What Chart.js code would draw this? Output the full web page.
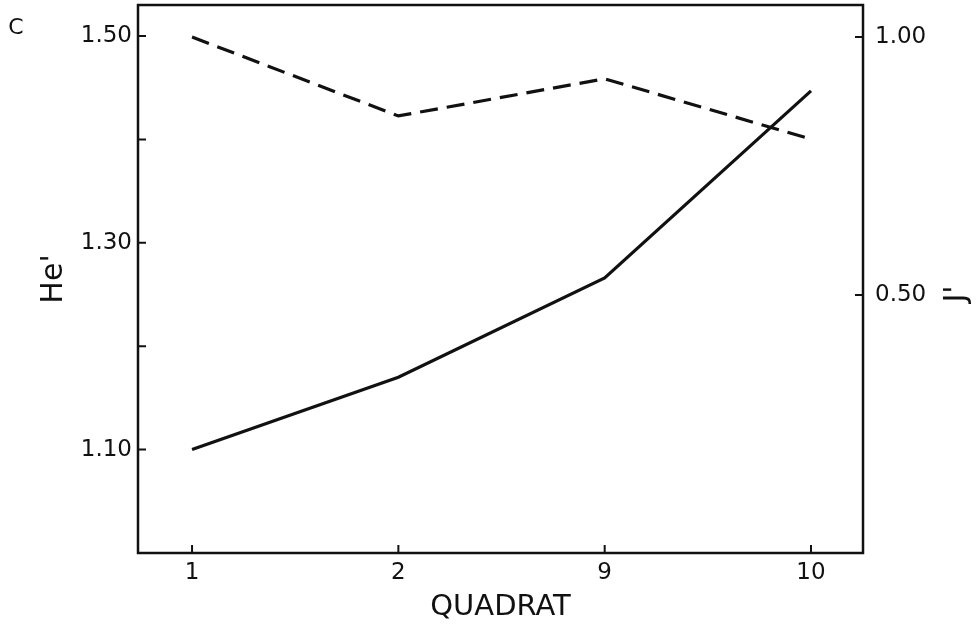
<!DOCTYPE html>
<html>
<head>
<meta charset="utf-8">
<title>He' and J' by quadrat</title>
<script src="https://cdn.jsdelivr.net/npm/chart.js@4.4.1/dist/chart.umd.min.js"></script>
<style>
  html, body { margin: 0; padding: 0; background: #fff; }
  #wrap { width: 976px; height: 630px; position: relative; }
</style>
</head>
<body>
<div id="wrap"><canvas id="chart" width="976" height="630"></canvas></div>
<script>
// quadrats along the x axis (evenly spaced, not to scale)
const quadrats = ["1", "2", "9", "10"];
// He' (left axis, solid line)
const heValues = [1.10, 1.17, 1.266, 1.447];
// J' (right axis, dashed line)
const jValues = [1.00, 0.847, 0.919, 0.802];
// ticks
const heTicks = [1.0, 1.1, 1.2, 1.3, 1.4, 1.5];
const heLabelled = ["1.10", "1.30", "1.50"];
const jTicks = [0, 0.5, 1.0];
const jLabelled = ["0.50", "1.00"];

const INK = "#111";
const FONT = "'DejaVu Sans', sans-serif";

const toPoints = vals => vals.map((v, i) => ({ x: i, y: v }));

// frame, inward tick marks and the loose labels
const framePlugin = {
  id: "frame",
  afterDraw(chart) {
    const { ctx, chartArea: a, scales } = chart;
    ctx.save();
    ctx.strokeStyle = INK;
    ctx.lineWidth = 2.5;
    ctx.strokeRect(a.left, a.top, a.right - a.left, a.bottom - a.top);

    ctx.lineWidth = 2;
    ctx.beginPath();
    scales.x.ticks.forEach(t => {
      const px = scales.x.getPixelForValue(t.value);
      ctx.moveTo(px, a.bottom);
      ctx.lineTo(px, a.bottom - 8);
    });
    scales.yHe.ticks.forEach(t => {
      const py = scales.yHe.getPixelForValue(t.value);
      ctx.moveTo(a.left, py);
      ctx.lineTo(a.left + 8, py);
    });
    scales.yJ.ticks.forEach(t => {
      const py = scales.yJ.getPixelForValue(t.value);
      ctx.moveTo(a.right, py);
      ctx.lineTo(a.right - 8, py);
    });
    ctx.stroke();

    ctx.fillStyle = INK;
    ctx.textAlign = "center";
    ctx.textBaseline = "middle";
    ctx.font = "22px " + FONT;
    ctx.fillText("C", 16, 28);

    // right axis title reads bottom to top, like the left one
    ctx.font = "30px " + FONT;
    ctx.translate(957, (a.top + a.bottom) / 2 + 15);
    ctx.rotate(-Math.PI / 2);
    ctx.fillText("J'", 0, 0);
    ctx.restore();
  }
};

new Chart(document.getElementById("chart"), {
  type: "line",
  data: {
    datasets: [
      {
        label: "He'",
        data: toPoints(heValues),
        yAxisID: "yHe",
        borderColor: INK,
        borderWidth: 3.2,
        pointRadius: 0,
        tension: 0
      },
      {
        label: "J'",
        data: toPoints(jValues),
        yAxisID: "yJ",
        borderColor: INK,
        borderWidth: 3.2,
        borderDash: [18, 9],
        pointRadius: 0,
        tension: 0
      }
    ]
  },
  options: {
    responsive: false,
    animation: false,
    layout: { padding: { top: 5, left: 0, right: 0, bottom: 0 } },
    plugins: {
      legend: { display: false },
      tooltip: { enabled: false }
    },
    scales: {
      x: {
        type: "linear",
        min: -0.262,
        max: 3.252,
        grid: { display: false, drawTicks: false },
        border: { display: false },
        afterBuildTicks: s => { s.ticks = quadrats.map((q, i) => ({ value: i })); },
        afterFit: s => { s.height = 77; s.paddingLeft = 0; s.paddingRight = 0; },
        ticks: {
          padding: 6,
          color: INK,
          font: { family: FONT, size: 23 },
          callback: v => quadrats[Math.round(v)]
        },
        title: {
          display: true,
          text: "QUADRAT",
          color: INK,
          font: { family: FONT, size: 29 },
          padding: { top: 0, bottom: 5 }
        }
      },
      yHe: {
        type: "linear",
        position: "left",
        min: 1.0,
        max: 1.53,
        grid: { display: false, drawTicks: false },
        border: { display: false },
        afterBuildTicks: s => { s.ticks = heTicks.map(v => ({ value: v })); },
        afterFit: s => { s.width = 138; s.paddingTop = 0; s.paddingBottom = 0; },
        ticks: {
          padding: 6,
          color: INK,
          font: { family: FONT, size: 23 },
          callback: v => {
            const s = v.toFixed(2);
            return heLabelled.includes(s) ? s : "";
          }
        },
        title: {
          display: true,
          text: "He'",
          color: INK,
          font: { family: FONT, size: 30 },
          padding: { top: 36, bottom: 0 }
        }
      },
      yJ: {
        type: "linear",
        position: "right",
        min: 0,
        max: 1.062,
        grid: { display: false, drawTicks: false },
        border: { display: false },
        afterBuildTicks: s => { s.ticks = jTicks.map(v => ({ value: v })); },
        afterFit: s => { s.width = 113; s.paddingTop = 0; s.paddingBottom = 0; },
        ticks: {
          padding: 12,
          color: INK,
          font: { family: FONT, size: 23 },
          callback: v => {
            const s = v.toFixed(2);
            return jLabelled.includes(s) ? s : "";
          }
        }
      }
    }
  },
  plugins: [framePlugin]
});
</script>
</body>
</html>
